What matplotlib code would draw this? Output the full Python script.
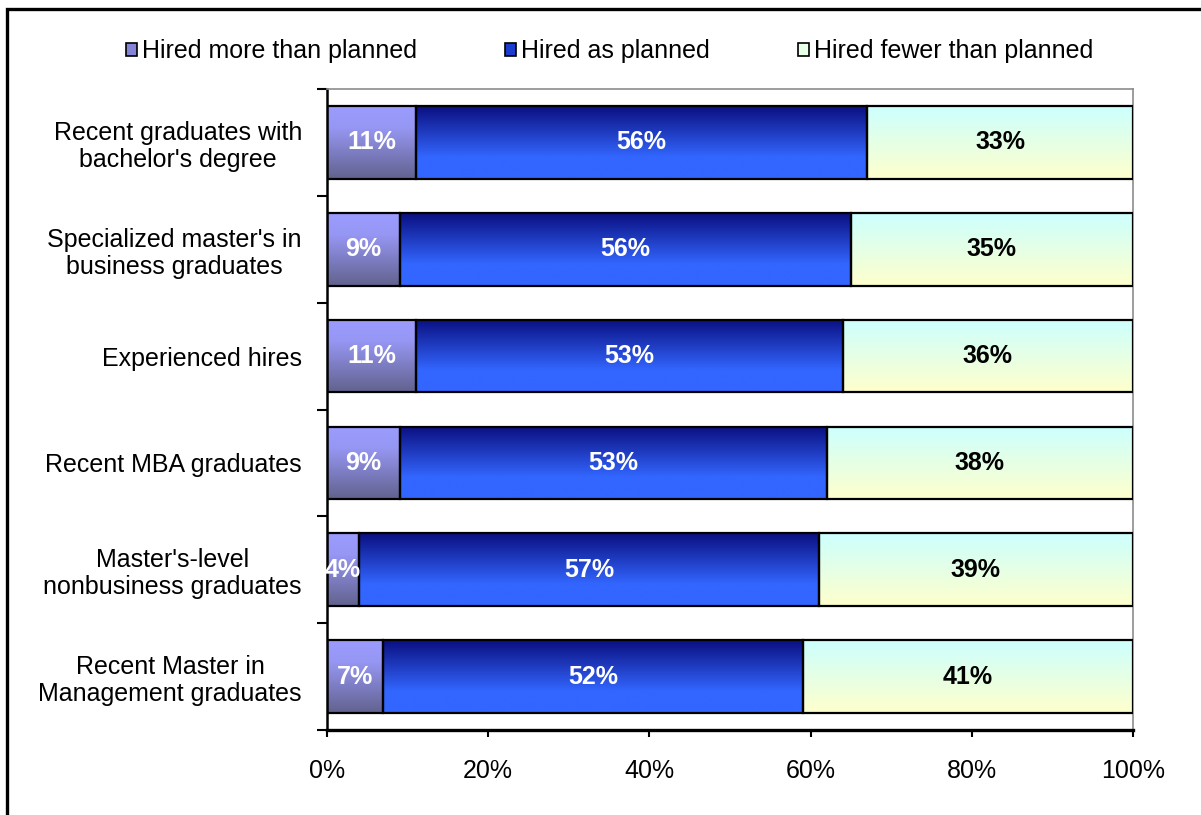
import numpy as np
import matplotlib
matplotlib.use("Agg")
import matplotlib.pyplot as plt
from matplotlib.colors import LinearSegmentedColormap
from matplotlib.patches import Rectangle, Patch

plt.rcParams["font.family"] = ["Liberation Sans", "DejaVu Sans"]

categories = [
    "Recent graduates with\nbachelor's degree",
    "Specialized master's in\nbusiness graduates",
    "Experienced hires",
    "Recent MBA graduates",
    "Master's-level\nnonbusiness graduates",
    "Recent Master in\nManagement graduates",
]
more_than_planned = [11, 9, 11, 9, 4, 7]
as_planned = [56, 56, 53, 53, 57, 52]
fewer_than_planned = [33, 35, 36, 38, 39, 41]

series_names = ["Hired more than planned", "Hired as planned", "Hired fewer than planned"]
x_ticks = [0, 20, 40, 60, 80, 100]

# vertical gradients (top -> bottom) for each series
gradients = [
    [(0.0, "#9c9cff"), (0.3, "#9696f4"), (1.0, "#62628e")],
    [(0.0, "#0a0f80"), (0.7, "#3366ff"), (1.0, "#3366ff")],
    [(0.0, "#ccffff"), (1.0, "#ffffcc")],
]
legend_colors = ["#8585d8", "#1c3ccf", "#e8ffe8"]
label_colors = ["white", "white", "black"]

W, H = 1201, 815
fig = plt.figure(figsize=(W / 100, H / 100), dpi=100)
ax = fig.add_axes([327 / W, 1 - 730 / H, (1133 - 327) / W, (730 - 89) / H])

n = len(categories)
ypos = np.arange(n)[::-1]
bar_h = 0.68

data = [more_than_planned, as_planned, fewer_than_planned]
left = np.zeros(n)
for s, vals in enumerate(data):
    vals = np.asarray(vals, dtype=float)
    cmap = LinearSegmentedColormap.from_list(f"g{s}", gradients[s])
    grad = np.linspace(0, 1, 256).reshape(-1, 1)
    bars = ax.barh(ypos, vals, left=left, height=bar_h, facecolor="none",
                   edgecolor="black", linewidth=1.6, zorder=3)
    for rect, v, l, y in zip(bars, vals, left, ypos):
        x0, y0 = rect.get_x(), rect.get_y()
        w, h = rect.get_width(), rect.get_height()
        im = ax.imshow(grad, cmap=cmap, aspect="auto", origin="upper",
                       extent=(x0, x0 + w, y0, y0 + h), zorder=2,
                       interpolation="bilinear")
        im.set_clip_path(rect)
        ax.text(l + v / 2, y, f"{v:.0f}%", ha="center", va="center",
                fontsize=18, fontweight="bold", color=label_colors[s], zorder=4)
    left = left + vals

ax.set_xlim(0, 100)
ax.set_ylim(-0.5, n - 0.5)

# x axis
ax.set_xticks(x_ticks)
ax.set_xticklabels([f"{t}%" for t in x_ticks], fontsize=18)
ax.tick_params(axis="x", direction="out", length=5, width=1.5, pad=16)

# y axis: boundary ticks, centred category labels
ax.set_yticks(np.arange(-0.5, n, 1.0))
ax.set_yticklabels([])
ax.tick_params(axis="y", which="major", direction="out", length=7, width=1.5)
ax.set_yticks(ypos, minor=True)
ax.set_yticklabels(categories, minor=True, fontsize=18, multialignment="center",
                   linespacing=1.15)
ax.tick_params(axis="y", which="minor", length=0, pad=18)

for side in ("left", "bottom"):
    ax.spines[side].set_color("black")
ax.spines["left"].set_linewidth(1.8)
ax.spines["bottom"].set_linewidth(2.4)
for side in ("top", "right"):
    ax.spines[side].set_color("#8c8c8c")
    ax.spines[side].set_linewidth(1.2)

handles = [Patch(facecolor=c, edgecolor="black", linewidth=1.2) for c in legend_colors]
fig.legend(handles, series_names, loc="center", bbox_to_anchor=(0.5075, 1 - 51 / H),
           ncol=3, frameon=False, fontsize=18, handlelength=0.42, handleheight=0.42,
           handletextpad=0.2, columnspacing=3.55, borderaxespad=0)

# outer frame
fig.patches.append(Rectangle((7 / W, -0.2), 1.5, 1.2 - 9 / H,
                             transform=fig.transFigure, fill=False,
                             edgecolor="black", linewidth=2.4, zorder=10))

fig.savefig("out.png", dpi=100)
